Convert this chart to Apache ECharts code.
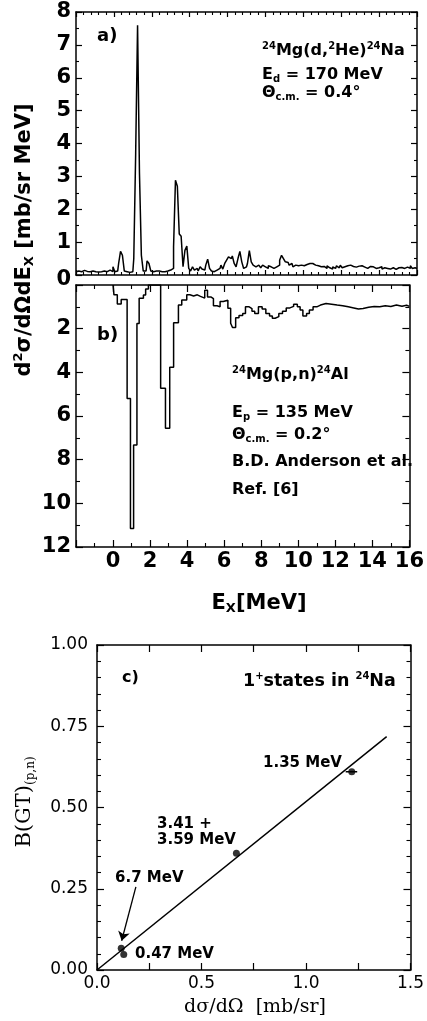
<!DOCTYPE html>
<html><head><meta charset="utf-8">
<script src="https://cdn.jsdelivr.net/npm/echarts@6/dist/echarts.min.js"></script>
<style>html,body{margin:0;padding:0;background:#fff}#c{width:427px;height:1021px}</style>
</head><body><div id="c"></div>
<script>
// ---------- Panel a: 24Mg(d,2He)24Na spectrum, bin centres every 0.1 MeV from -2.0 ----------
const dheStart = -2.0;
const dheStep = 0.1;
const dheCounts = [
  0.10,0.12,0.08,0.10,0.14,0.09,0.11,0.10,0.07,0.12,
  0.10,0.13,0.09,0.10,0.08,0.12,0.10,0.09,0.15,0.10,
  0.25,0.10,0.12,0.35,0.72,0.60,0.12,0.10,0.08,0.12,
  0.10,0.50,3.70,7.60,3.10,0.60,0.12,0.12,0.43,0.35,
  0.12,0.10,0.12,0.08,0.12,0.10,0.14,0.10,0.12,0.10,
  0.15,0.20,0.85,2.88,2.70,1.25,1.18,0.25,0.75,0.88,
  0.20,0.12,0.25,0.15,0.20,0.12,0.25,0.18,0.15,0.30,
  0.48,0.20,0.12,0.10,0.15,0.12,0.20,0.30,0.18,0.35,
  0.45,0.55,0.50,0.58,0.35,0.25,0.50,0.72,0.40,0.20,
  0.25,0.35,0.74,0.40,0.30,0.25,0.30,0.28,0.22,0.30,
  0.25,0.20,0.28,0.25,0.20,0.15,0.25,0.30,0.45,0.60,
  0.50,0.40,0.38,0.30,0.35,0.25,0.30,0.28,0.25,0.30,
  0.28,0.30,0.32,0.35,0.40,0.35,0.30,0.32,0.28,0.25,
  0.22,0.26,0.20,0.28,0.22,0.18,0.25,0.20,0.28,0.22,
  0.30,0.22,0.25,0.28,0.25,0.30,0.26,0.28,0.24,0.27,
  0.25,0.28,0.24,0.25,0.20,0.26,0.22,0.25,0.20,0.24,
  0.22,0.25,0.18,0.22,0.20,0.24,0.18,0.22,0.20,0.17,
  0.22,0.19,0.23,0.20,0.18,0.24,0.20,0.28,0.20,0.22,
  0.20
];

// ---------- Panel b: 24Mg(p,n)24Al histogram (bin left edges, values) ----------
const pnEdges = [0.0,0.05,0.23,0.44,0.76,0.94,1.11,1.29,1.41,1.64,1.76,1.91,2.57,2.83,3.06,3.27,3.53,3.71,
  3.98,4.15,4.35,4.55,4.72,4.95,5.1,5.3,5.42,5.62,5.78,5.95,6.2,6.35,6.45,6.62,6.8,7.0,7.15,7.35,7.5,7.65,7.85,
  8.05,8.25,8.45,8.6,8.75,8.95,9.15,9.35,9.55,9.75,9.95,10.1,10.25,10.45,10.6,10.8,11.0,11.2,11.5,11.8,12.1,
  12.4,12.7,13.0,13.25,13.5,13.8,14.1,14.4,14.7,15.0,15.3,15.6,15.85,16.0];
const pnValues = [0,0.45,0.87,0.66,5.2,11.15,7.33,1.76,0.61,0.46,0.18,0,4.73,6.56,3.77,1.73,0.92,0.69,
  0.45,0.5,0.45,0.52,0.6,0.24,0.55,0.62,0.95,1.0,0.76,0.7,1.07,1.75,1.95,1.5,1.4,1.3,1.0,1.08,1.2,1.3,1.0,
  1.1,1.3,1.42,1.52,1.45,1.3,1.2,1.05,0.98,0.88,1.0,1.15,1.42,1.3,1.15,1.0,0.92,0.85,0.88,0.92,0.95,
  1.0,1.05,1.1,1.08,1.02,0.98,1.0,0.95,0.98,0.92,0.97,0.93,0.98,0.98];

// ---------- Panel c: B(GT) vs cross section ----------
const cXsec = [0.116, 0.128, 0.667, 1.219];
const cBgt  = [0.067, 0.048, 0.359, 0.610];
const cErrX = [1.190, 1.245];
const fitX = [0, 1.386];
const fitY = [0, 0.718];
const arrowFrom = [0.186, 0.256];
const arrowTo = [0.118, 0.090];

const SANS = 'DejaVu Sans';
const SERIF = 'DejaVu Serif';
const BLK = '#000';

function axisBase(extra) {
  return Object.assign({
    splitLine: {show: false},
    axisLine: {show: true, onZero: false, lineStyle: {color: BLK, width: 1.5}},
    axisTick: {show: true, inside: true, length: 6, lineStyle: {color: BLK, width: 1.2}},
    minorTick: {show: false},
    axisLabel: {show: false},
    axisPointer: {show: false}
  }, extra);
}
function minor(split, len) {
  return {show: true, splitNumber: split, length: len, lineStyle: {color: BLK, width: 1.1}};
}
const tickLab = {show: true, color: BLK, fontFamily: SANS, fontWeight: 'bold', fontSize: 21};

const xAxes = [
  axisBase({gridIndex: 0, type: 'value', position: 'bottom', min: -2, max: 16, interval: 2,
    axisTick: {show: true, inside: true, length: 5, lineStyle: {color: BLK, width: 1.2}}, minorTick: minor(5, 3)}),
  axisBase({gridIndex: 0, type: 'value', position: 'top', min: -2, max: 16, interval: 2,
    axisTick: {show: true, inside: true, length: 5, lineStyle: {color: BLK, width: 1.2}}, minorTick: minor(5, 3)}),
  axisBase({gridIndex: 1, type: 'value', position: 'bottom', min: -2, max: 16, interval: 2,
    axisTick: {show: true, inside: true, length: 7, lineStyle: {color: BLK, width: 1.2}}, minorTick: minor(2, 4),
    axisLabel: Object.assign({}, tickLab, {margin: 4, formatter: v => v < 0 ? '' : String(v)})}),
  axisBase({gridIndex: 1, type: 'value', position: 'top', min: -2, max: 16, interval: 2,
    axisTick: {show: true, inside: true, length: 7, lineStyle: {color: BLK, width: 1.2}}, minorTick: minor(2, 4)}),
  axisBase({gridIndex: 2, type: 'value', position: 'bottom', min: 0, max: 1.5, interval: 0.25,
    axisTick: {show: true, inside: true, length: 7, lineStyle: {color: BLK, width: 1.2}},
    axisLabel: {show: true, color: BLK, fontFamily: SANS, fontSize: 17, margin: 5,
      formatter: v => Math.abs(v * 2 - Math.round(v * 2)) < 1e-6 ? v.toFixed(1) : ''}}),
  axisBase({gridIndex: 2, type: 'value', position: 'top', min: 0, max: 1.5, interval: 0.25,
    axisTick: {show: true, inside: true, length: 7, lineStyle: {color: BLK, width: 1.2}}})
];
const yAxes = [
  axisBase({gridIndex: 0, type: 'value', position: 'left', min: 0, max: 8, interval: 1,
    minorTick: minor(2, 3),
    axisLabel: Object.assign({}, tickLab, {margin: 5, formatter: v => v === 0 ? '' : String(v)})}),
  axisBase({gridIndex: 0, type: 'value', position: 'right', min: 0, max: 8, interval: 1, minorTick: minor(2, 3)}),
  axisBase({gridIndex: 1, type: 'value', position: 'left', inverse: true, min: 0, max: 12, interval: 2,
    axisTick: {show: true, inside: true, length: 7, lineStyle: {color: BLK, width: 1.2}}, minorTick: minor(2, 4),
    axisLabel: Object.assign({}, tickLab, {margin: 5,
      formatter: v => v === 0 ? '{z|0}' : String(v),
      rich: {z: {fontFamily: SANS, fontWeight: 'bold', fontSize: 21, color: BLK, padding: [0, 0, 10, 0]}}})}),
  axisBase({gridIndex: 1, type: 'value', position: 'right', inverse: true, min: 0, max: 12, interval: 2,
    axisTick: {show: true, inside: true, length: 7, lineStyle: {color: BLK, width: 1.2}}, minorTick: minor(2, 4)}),
  axisBase({gridIndex: 2, type: 'value', position: 'left', min: 0, max: 1, interval: 0.25,
    axisTick: {show: true, inside: true, length: 7, lineStyle: {color: BLK, width: 1.2}}, minorTick: minor(5, 4),
    axisLabel: {show: true, color: BLK, fontFamily: SANS, fontSize: 17, margin: 9, formatter: v => v.toFixed(2)}}),
  axisBase({gridIndex: 2, type: 'value', position: 'right', min: 0, max: 1, interval: 0.25,
    axisTick: {show: true, inside: true, length: 7, lineStyle: {color: BLK, width: 1.2}}, minorTick: minor(5, 4)})
];

const specA = dheCounts.map((v, i) => [Number((dheStart + i * dheStep).toFixed(2)), v]);
const specB = pnEdges.map((e, i) => [e, pnValues[i]]);
const pts = cXsec.map((x, i) => [x, cBgt[i]]);

const supS = {fontFamily: SANS, fontWeight: 'bold', fontSize: 10, fill: BLK, padding: [0, 0, 10, 0]};
const subS = {fontFamily: SANS, fontWeight: 'bold', fontSize: 10, fill: BLK, padding: [9, 0, 0, 0]};
function txt(x, y, text, size, extra) {
  return Object.assign({
    type: 'text', x: x, y: y, silent: true,
    style: {text: text, fill: BLK, font: 'bold ' + size + 'px "' + SANS + '"',
      fontFamily: SANS, fontWeight: 'bold', fontSize: size,
      verticalAlign: 'middle', align: 'left',
      rich: {sup: Object.assign({}, supS), sub: Object.assign({}, subS)}}
  }, extra || {});
}

const option = {
  animation: false,
  backgroundColor: '#fff',
  grid: [
    {left: 76, top: 12, width: 341, height: 263},
    {left: 76, top: 285, width: 341, height: 262},
    {left: 97, top: 645, width: 320, height: 325}
  ],
  xAxis: xAxes,
  yAxis: yAxes,
  series: [
    {type: 'line', xAxisIndex: 0, yAxisIndex: 0, step: 'middle', showSymbol: false, data: specA,
      lineStyle: {color: BLK, width: 1.5}},
    {type: 'line', xAxisIndex: 2, yAxisIndex: 2, step: 'end', showSymbol: false, data: specB,
      lineStyle: {color: BLK, width: 1.5}},
    {type: 'line', xAxisIndex: 4, yAxisIndex: 4, showSymbol: false, data: [[fitX[0], fitY[0]], [fitX[1], fitY[1]]],
      lineStyle: {color: BLK, width: 1.5}},
    {type: 'line', xAxisIndex: 4, yAxisIndex: 4, showSymbol: false, data: [[cErrX[0], cBgt[3]], [cErrX[1], cBgt[3]]],
      lineStyle: {color: BLK, width: 1.5}},
    {type: 'scatter', xAxisIndex: 4, yAxisIndex: 4, symbol: 'circle', symbolSize: 7, data: pts,
      itemStyle: {color: BLK}},
    {type: 'lines', coordinateSystem: 'cartesian2d', xAxisIndex: 4, yAxisIndex: 4,
      symbol: ['none', 'arrow'], symbolSize: 9,
      lineStyle: {color: BLK, width: 1.3, opacity: 1},
      data: [{coords: [arrowFrom, arrowTo]}]}
  ],
  graphic: [
    // panel a
    txt(97, 36, 'a)', 18),
    txt(262, 51, '{sup|24}Mg(d,{sup|2}He){sup|24}Na', 16),
    txt(262, 75, 'E{sub|d} = 170 MeV', 16),
    txt(262, 93, 'Θ{sub|c.m.} = 0.4°', 16),
    // panel b
    txt(97, 335, 'b)', 18),
    txt(232, 375, '{sup|24}Mg(p,n){sup|24}Al', 16),
    txt(232, 413, 'E{sub|p} = 135 MeV', 16),
    txt(232, 435, 'Θ{sub|c.m.} = 0.2°', 16),
    txt(232, 462, 'B.D. Anderson et al.', 16),
    txt(232, 490, 'Ref. [6]', 16),
    // axis titles of spectra
    txt(25, 240, 'd{sup|2}σ/dΩdE{sub|X} [mb/sr MeV]', 21, {rotation: Math.PI / 2,
      style: {text: 'd{sup|2}σ/dΩdE{sub|X} [mb/sr MeV]', fill: BLK, fontFamily: SANS, fontWeight: 'bold', fontSize: 21,
        align: 'center', verticalAlign: 'middle',
        rich: {sup: Object.assign({}, supS, {fontSize: 13, padding: [0, 0, 12, 0]}),
               sub: Object.assign({}, subS, {fontSize: 13, padding: [10, 0, 0, 0]})}}}),
    txt(259, 604, 'E{sub|X}[MeV]', 21, {
      style: {text: 'E{sub|X}[MeV]', fill: BLK, fontFamily: SANS, fontWeight: 'bold', fontSize: 21,
        align: 'center', verticalAlign: 'middle',
        rich: {sub: Object.assign({}, subS, {fontSize: 13, padding: [10, 0, 0, 0]})}}}),
    // panel c
    txt(122, 678, 'c)', 16),
    txt(243, 681, '1{sup|+}states in {sup|24}Na', 17.5),
    txt(263, 763, '1.35 MeV', 15),
    txt(157, 824, '3.41 +', 15),
    txt(157, 840, '3.59 MeV', 15),
    txt(115, 878, '6.7 MeV', 15),
    txt(135, 954, '0.47 MeV', 15),
    {type: 'text', x: 255, y: 1007, silent: true,
      style: {text: 'dσ/dΩ  [mb/sr]', fill: BLK, fontFamily: SERIF, fontSize: 19, align: 'center', verticalAlign: 'middle'}},
    {type: 'text', x: 25, y: 802, rotation: Math.PI / 2, silent: true,
      style: {text: 'B(GT){s|(p,n)}', fill: BLK, fontFamily: SERIF, fontSize: 21, align: 'center', verticalAlign: 'middle',
        rich: {s: {fontFamily: SERIF, fontSize: 12, fill: BLK, padding: [12, 0, 0, 0]}}}}
  ]
};

const chart = echarts.init(document.getElementById('c'), null, {renderer: 'canvas'});
chart.setOption(option);
</script>
</body></html>
